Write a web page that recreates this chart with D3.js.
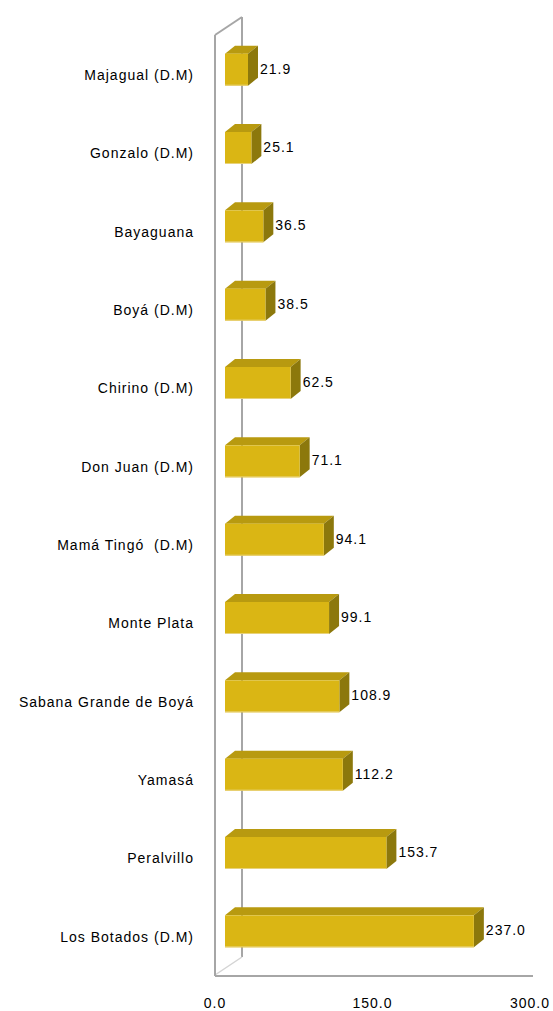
<!DOCTYPE html>
<html><head><meta charset="utf-8">
<script src="https://cdn.jsdelivr.net/npm/d3@7"></script>
<style>body{margin:0;background:#fff}svg{display:block}</style>
</head><body>
<script>
const categories = ["Majagual (D.M)","Gonzalo (D.M)","Bayaguana","Boyá (D.M)","Chirino (D.M)","Don Juan (D.M)","Mamá Tingó  (D.M)","Monte Plata","Sabana Grande de Boyá","Yamasá","Peralvillo","Los Botados (D.M)"];
const values = [21.9,25.1,36.5,38.5,62.5,71.1,94.1,99.1,108.9,112.2,153.7,237.0];
const tickValues = [0,150,300];

const W = 553, H = 1011;
const svg = d3.select("body").append("svg").attr("width",W).attr("height",H);
const font = "'Liberation Sans', Arial, sans-serif";

const x = d3.scaleLinear().domain([0,300]).range([215,530]);
const y = d3.scaleBand().domain(categories).range([35,975]).paddingInner(0);

// wall depth
const wdx = 27, wdy = -18;
const grey = "#a6a6a6";
const g = svg.append("g");
// back wall vertical
g.append("line").attr("x1",x(0)+wdx).attr("x2",x(0)+wdx).attr("y1",35+wdy).attr("y2",975+wdy).attr("stroke",grey).attr("stroke-width",2);
// top diagonal
g.append("line").attr("x1",x(0)).attr("y1",35).attr("x2",x(0)+wdx).attr("y2",35+wdy).attr("stroke",grey).attr("stroke-width",2);
// bottom diagonal
g.append("line").attr("x1",x(0)).attr("y1",975).attr("x2",x(0)+wdx).attr("y2",975+wdy).attr("stroke","#d4d4d4").attr("stroke-width",1.5);
// front vertical
g.append("line").attr("x1",x(0)).attr("x2",x(0)).attr("y1",35).attr("y2",976).attr("stroke",grey).attr("stroke-width",2);
// floor line
g.append("line").attr("x1",x(0)).attr("x2",533).attr("y1",976).attr("y2",976).attr("stroke",grey).attr("stroke-width",2);

// bars
const fdx = 10, fdy = -4.5;   // bar front plane offset
const bdx = 10, bdy = -8;     // bar depth
const bh = 32;
const data = categories.map((c,i)=>({c, v: values[i]}));
const bars = svg.append("g").selectAll("g").data(data).join("g");
bars.each(function(d){
  const s = d3.select(this);
  const x0 = x(0)+fdx, x1 = x(d.v)+fdx;
  const yc = y(d.c)+y.bandwidth()/2+fdy;
  const t = yc-bh/2, b = yc+bh/2;
  // top face
  s.append("path").attr("d",`M${x0},${t}L${x0+bdx},${t+bdy}L${x1+bdx},${t+bdy}L${x1},${t}Z`).attr("fill","#b89a10");
  // side face
  s.append("path").attr("d",`M${x1},${t}L${x1+bdx},${t+bdy}L${x1+bdx},${b+bdy}L${x1},${b}Z`).attr("fill","#8c780c");
  // front face
  s.append("rect").attr("x",x0).attr("y",t).attr("width",x1-x0).attr("height",bh).attr("fill","#dab614");
  s.append("line").attr("x1",x0).attr("x2",x1).attr("y1",b-0.5).attr("y2",b-0.5).attr("stroke","#e8d27a").attr("stroke-width",1);
  // value label
  s.append("text").attr("x",x1+bdx+2).attr("y",yc-1).attr("dy","0.35em")
    .attr("font-family",font).attr("font-size",14).attr("letter-spacing","1px").attr("fill","#000")
    .text(d.v.toFixed(1));
});

// category labels
svg.append("g").selectAll("text").data(categories).join("text")
  .attr("x",194).attr("y",d=>y(d)+y.bandwidth()/2+1).attr("dy","0.35em")
  .attr("text-anchor","end").attr("font-family",font).attr("font-size",14).attr("letter-spacing","1px")
  .style("white-space","pre").attr("fill","#000").text(d=>d);

// x tick labels
svg.append("g").selectAll("text").data(tickValues).join("text")
  .attr("x",d=>x(d)).attr("y",1003).attr("dy","0.35em").attr("text-anchor","middle")
  .attr("font-family",font).attr("font-size",14).attr("letter-spacing","1px").attr("fill","#000")
  .text(d=>d.toFixed(1));
</script>
</body></html>
